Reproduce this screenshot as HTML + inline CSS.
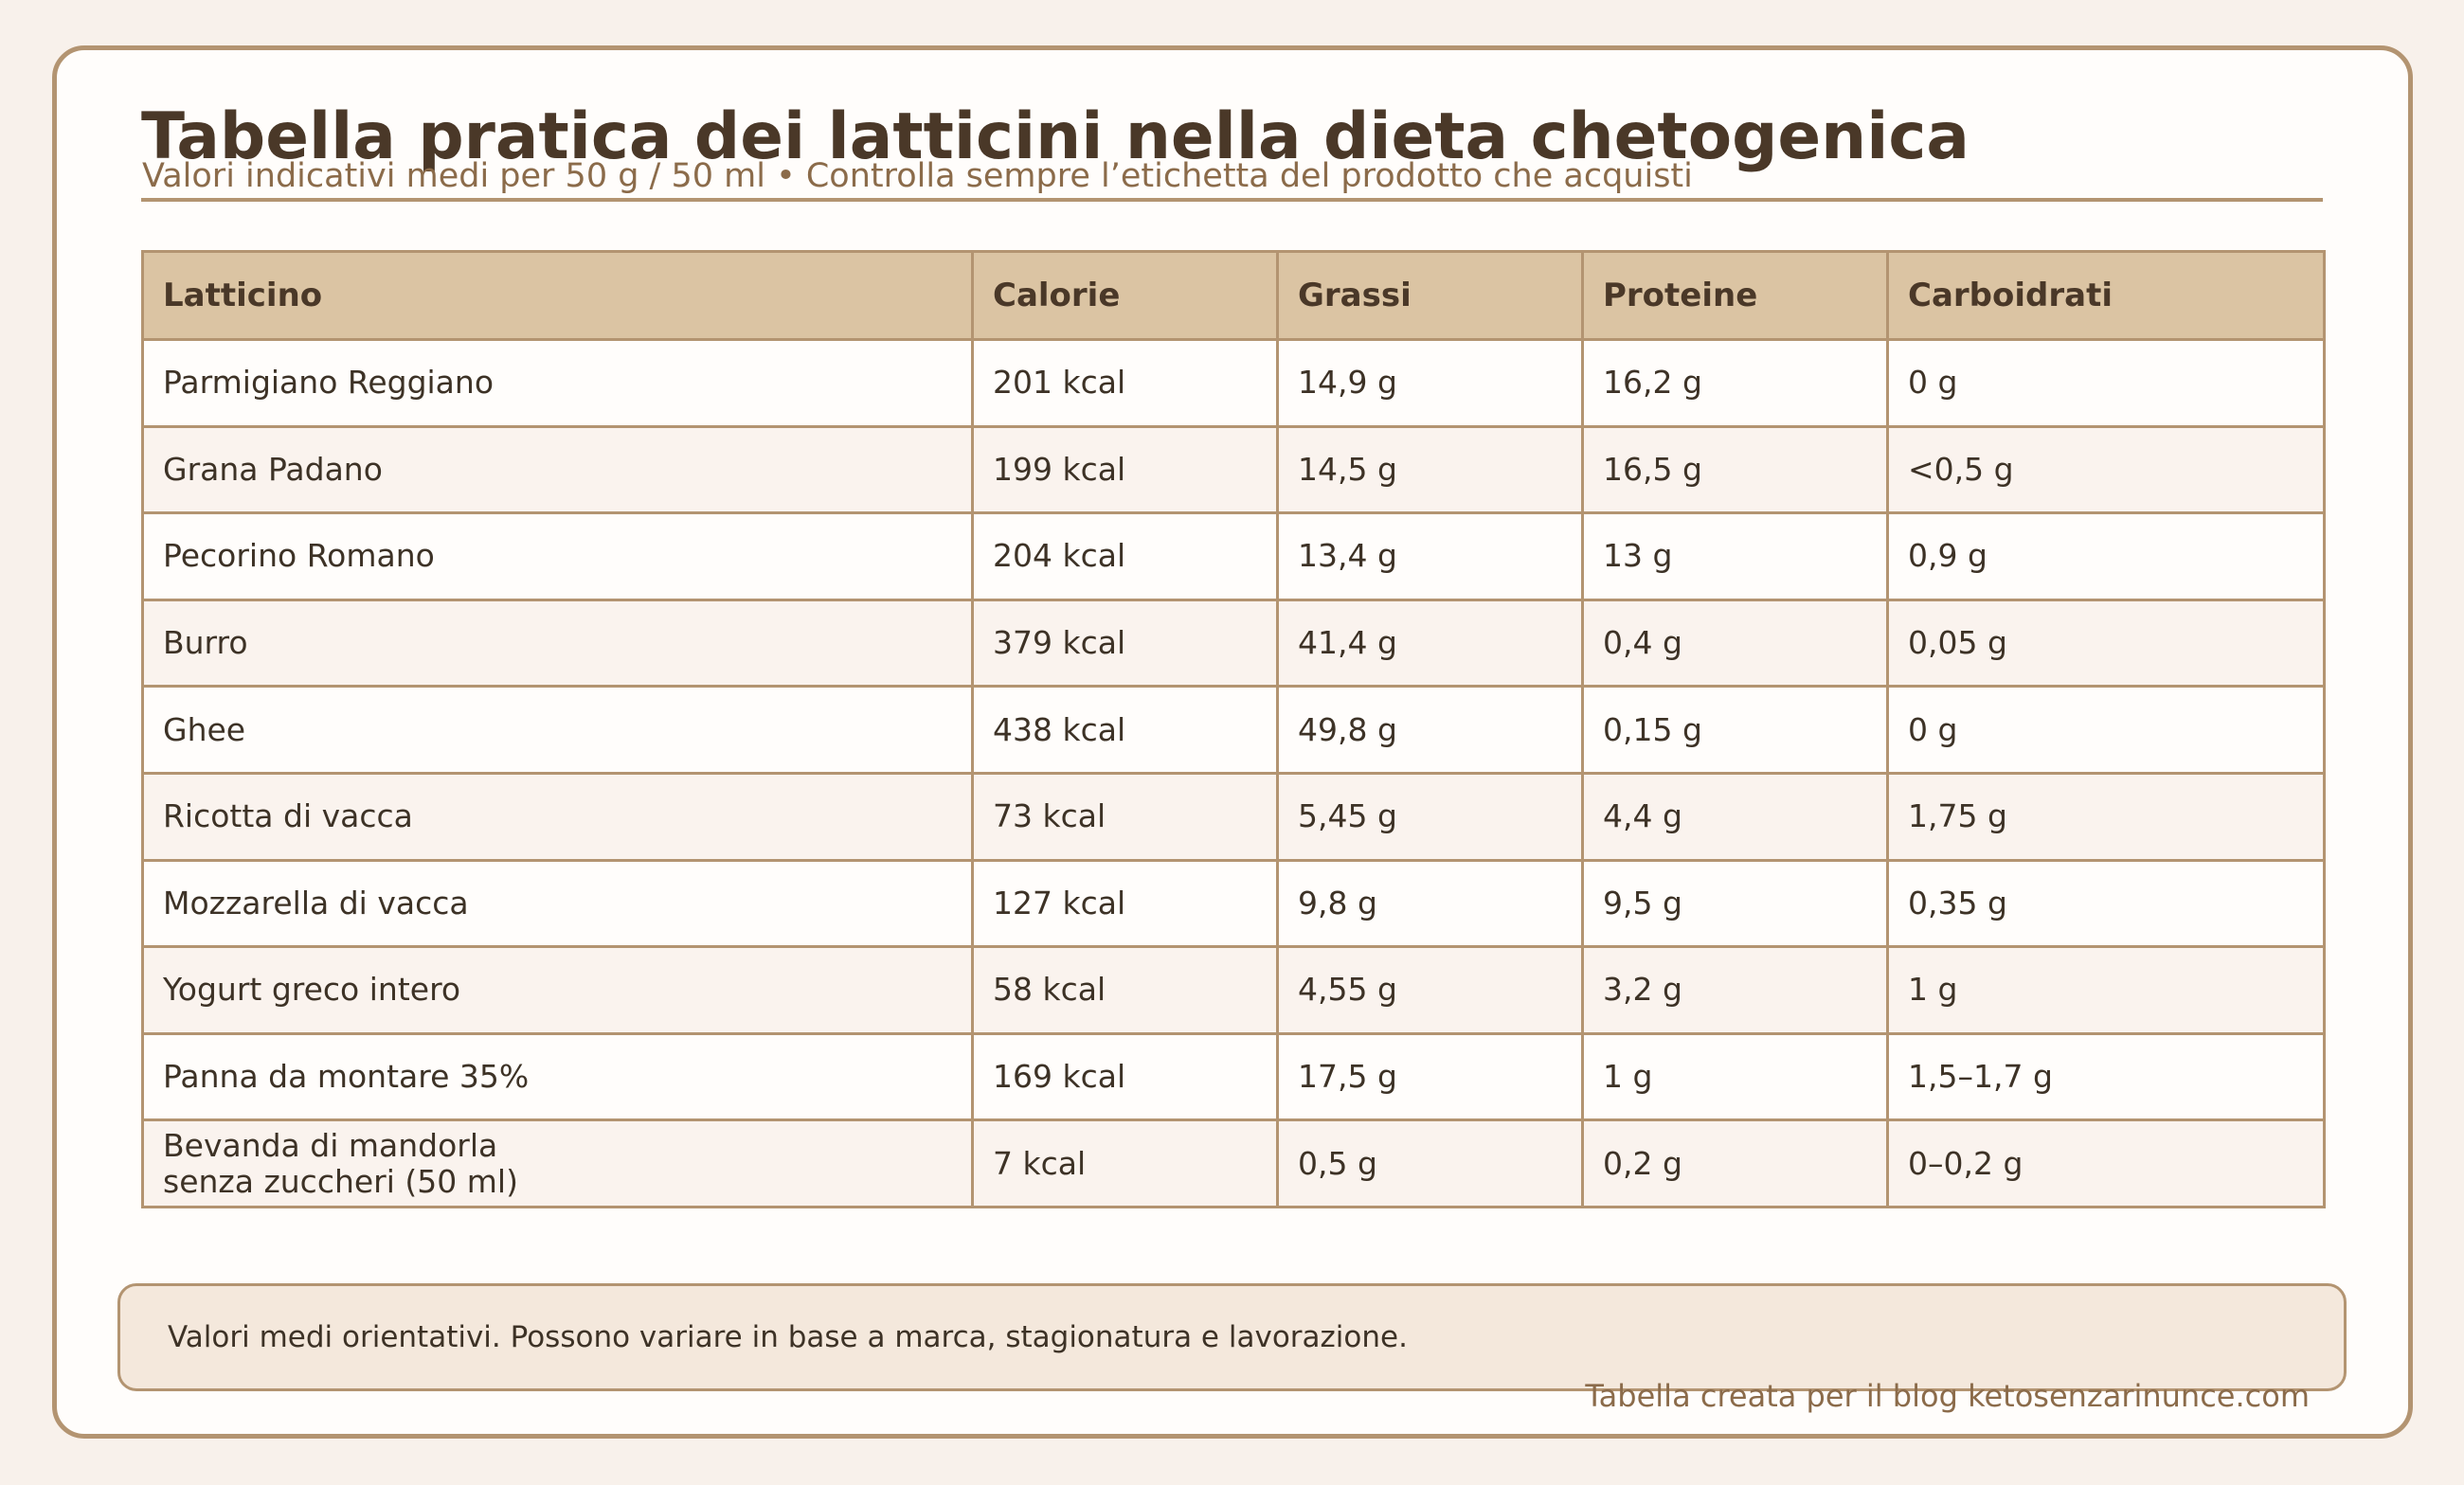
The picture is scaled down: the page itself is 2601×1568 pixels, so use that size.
<!DOCTYPE html>
<html><head><meta charset="utf-8"><style>
*{margin:0;padding:0;box-sizing:border-box}
body{width:2601px;height:1568px;background:#f8f1eb;font-family:"DejaVu Sans","Liberation Sans",sans-serif;position:relative;overflow:hidden}
.card{position:absolute;left:55px;top:48px;width:2492px;height:1471px;background:#fffdfb;border:5px solid #b39471;border-radius:34px}
.title{position:absolute;left:149px;top:104px;font-size:67.5px;font-weight:bold;color:#4a3828;white-space:nowrap;line-height:80px}
.sub{position:absolute;left:150px;top:166px;font-size:35px;color:#8b6b4a;white-space:nowrap;line-height:40px}
.rule{position:absolute;left:149px;top:209px;width:2303px;height:4px;background:#b39471}
table{position:absolute;left:149px;top:264px;width:2303px;border-collapse:collapse;table-layout:fixed}
td,th{border:3px solid #b39471;text-align:left;padding:0 0 0 20px;height:91.6px;font-size:33px;color:#3d3226;font-weight:normal;line-height:38px}
th{background:#dbc4a3;font-weight:bold;font-size:34px;color:#4a3828;height:93px}
tr:nth-child(odd) td{background:#faf3ee}
tr:nth-child(even) td{background:#fffdfb}
.note{position:absolute;left:124px;top:1355px;width:2353px;height:114px;background:#f4e8dc;border:3px solid #b39471;border-radius:20px;font-size:31px;color:#3d3226;padding-left:50px;line-height:108px}
.foot{position:absolute;right:163px;top:1455px;font-size:32px;color:#8b6b4a;white-space:nowrap;line-height:38px}
</style></head><body>
<div class="card"></div>
<div class="title">Tabella pratica dei latticini nella dieta chetogenica</div>
<div class="sub">Valori indicativi medi per 50 g / 50 ml • Controlla sempre l’etichetta del prodotto che acquisti</div>
<div class="rule"></div>
<table>
<colgroup><col style="width:876px"><col style="width:322px"><col style="width:322px"><col style="width:322px"><col style="width:461px"></colgroup>
<tr><th>Latticino</th><th>Calorie</th><th>Grassi</th><th>Proteine</th><th>Carboidrati</th></tr>
<tr><td>Parmigiano Reggiano</td><td>201 kcal</td><td>14,9 g</td><td>16,2 g</td><td>0 g</td></tr>
<tr><td>Grana Padano</td><td>199 kcal</td><td>14,5 g</td><td>16,5 g</td><td>&lt;0,5 g</td></tr>
<tr><td>Pecorino Romano</td><td>204 kcal</td><td>13,4 g</td><td>13 g</td><td>0,9 g</td></tr>
<tr><td>Burro</td><td>379 kcal</td><td>41,4 g</td><td>0,4 g</td><td>0,05 g</td></tr>
<tr><td>Ghee</td><td>438 kcal</td><td>49,8 g</td><td>0,15 g</td><td>0 g</td></tr>
<tr><td>Ricotta di vacca</td><td>73 kcal</td><td>5,45 g</td><td>4,4 g</td><td>1,75 g</td></tr>
<tr><td>Mozzarella di vacca</td><td>127 kcal</td><td>9,8 g</td><td>9,5 g</td><td>0,35 g</td></tr>
<tr><td>Yogurt greco intero</td><td>58 kcal</td><td>4,55 g</td><td>3,2 g</td><td>1 g</td></tr>
<tr><td>Panna da montare 35%</td><td>169 kcal</td><td>17,5 g</td><td>1 g</td><td>1,5–1,7 g</td></tr>
<tr><td>Bevanda di mandorla<br>senza zuccheri (50 ml)</td><td>7 kcal</td><td>0,5 g</td><td>0,2 g</td><td>0–0,2 g</td></tr>
</table>
<div class="note">Valori medi orientativi. Possono variare in base a marca, stagionatura e lavorazione.</div>
<div class="foot">Tabella creata per il blog ketosenzarinunce.com</div>
</body></html>
